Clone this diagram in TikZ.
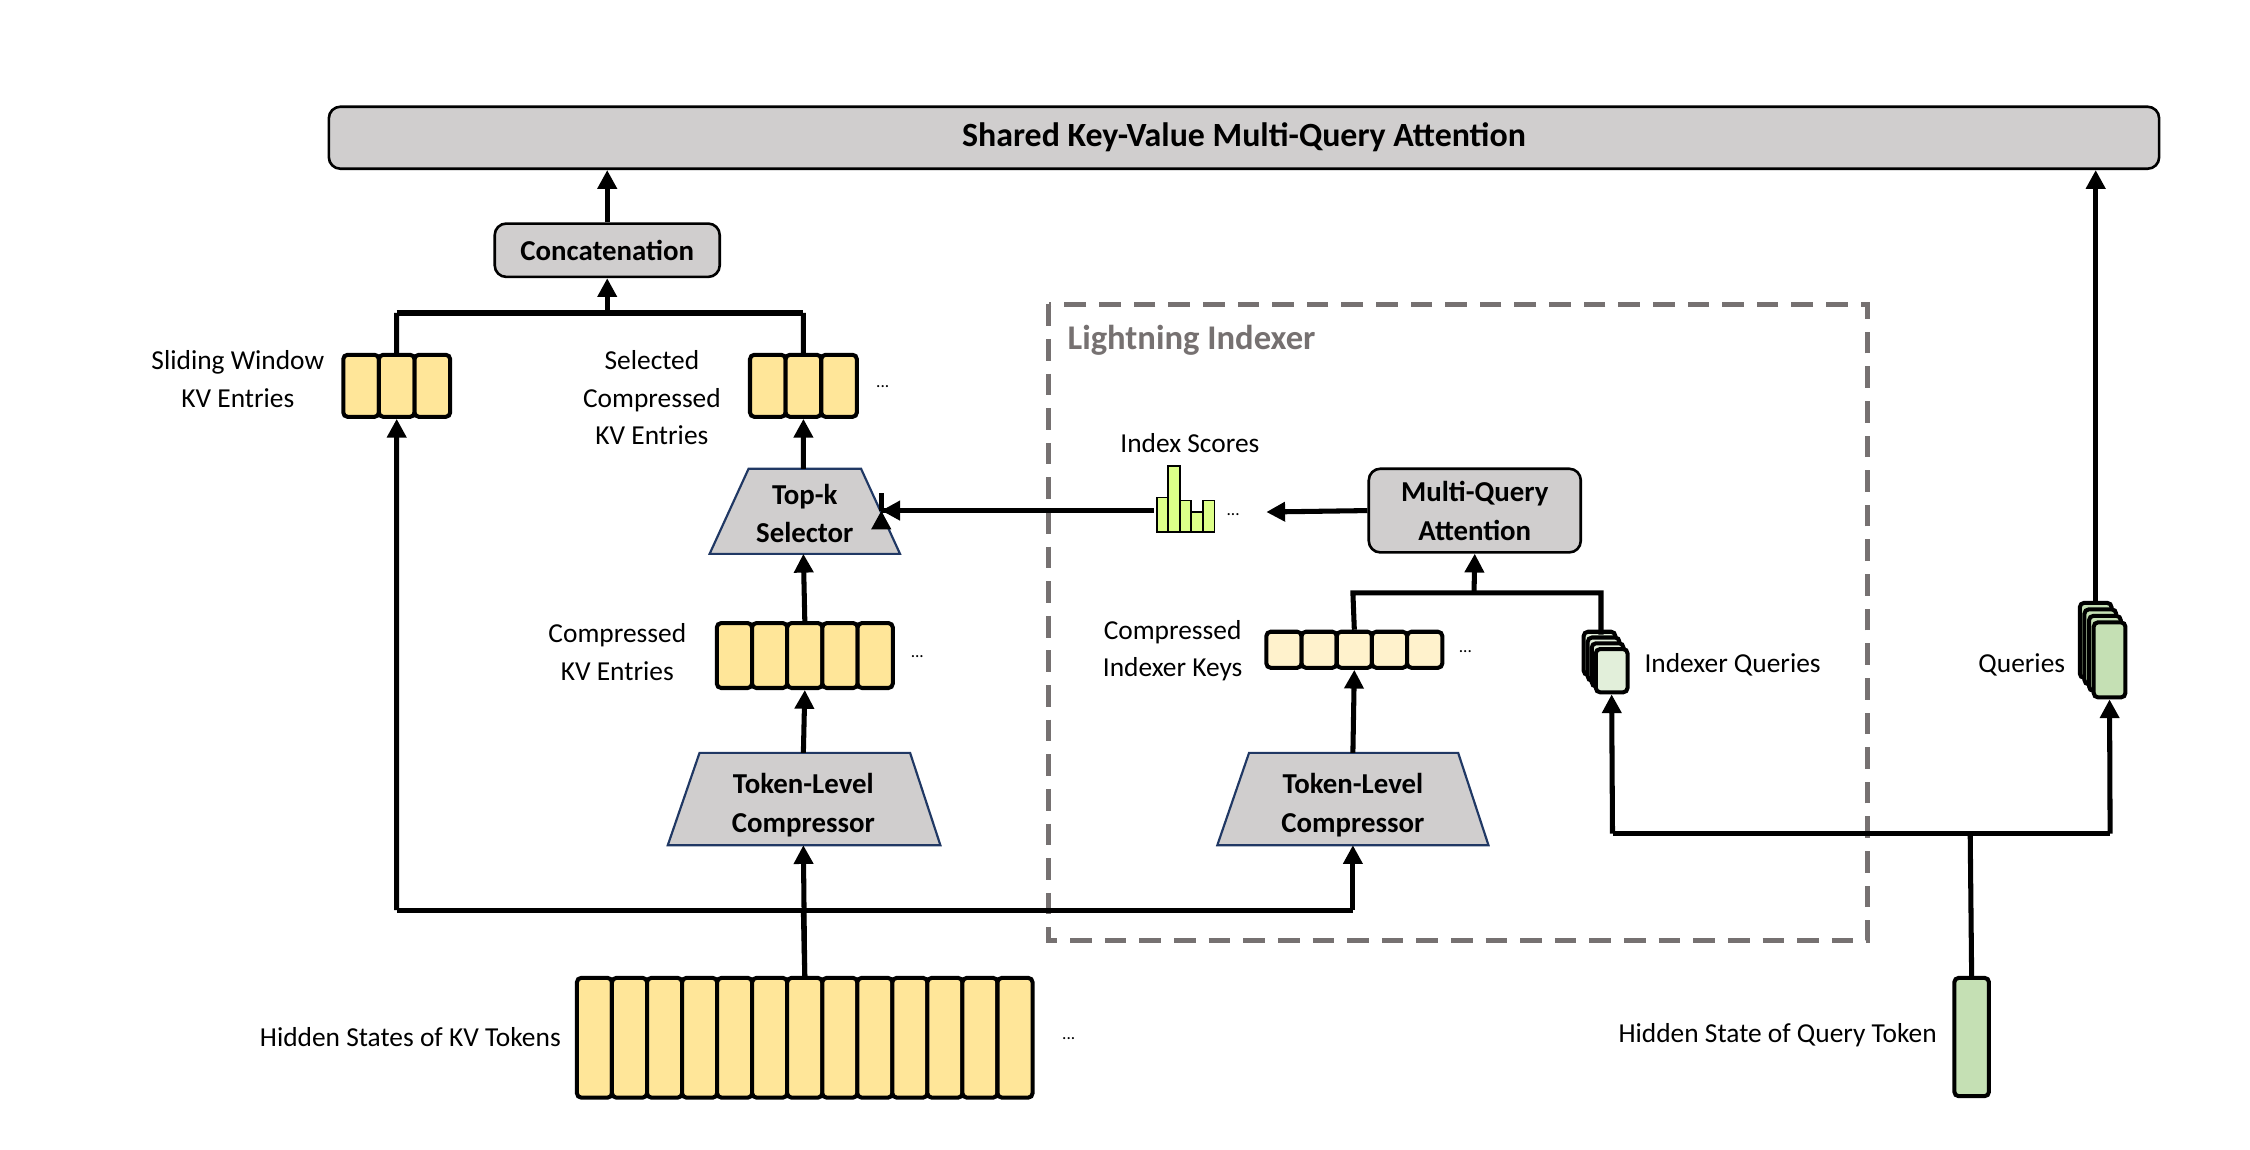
\documentclass[tikz,border=0pt]{standalone}
\usepackage{fontspec}
\setmainfont{Carlito}
\usetikzlibrary{arrows.meta}
\definecolor{boxgray}{HTML}{D0CECE}
\definecolor{kvy}{HTML}{FFE699}
\definecolor{kvl}{HTML}{FFF2CC}
\definecolor{qg}{HTML}{C5E0B4}
\definecolor{qgl}{HTML}{E2EFDA}
\definecolor{barg}{HTML}{DDFF88}
\definecolor{navy}{HTML}{203864}
\definecolor{dgray}{HTML}{767171}
\tikzset{
  lbl/.style={font=\fontsize{19}{26}\selectfont, align=center, inner sep=0pt},
  conn/.style={line width=3.5pt, black},
  arr/.style={conn, -{Triangle[length=13pt,width=13pt]}},
  cell/.style={draw=black, line width=2.8pt, rounded corners=3pt, inner sep=0pt},
  gbox/.style={draw=black, line width=1.8pt, fill=boxgray, rounded corners=8pt, font=\fontsize{20}{27}\selectfont\bfseries, align=center, inner sep=0pt},
  trap/.style={draw=navy, line width=1.5pt, fill=boxgray},
  traptext/.style={font=\fontsize{20}{27}\selectfont\bfseries, align=center, inner sep=0pt},
  dots/.style={font=\fontsize{12}{12}\selectfont, inner sep=0pt}
}
\begin{document}
\begin{tikzpicture}[x=1pt,y=-1pt]
\useasboundingbox (0,0) rectangle (1560,797);
% title
\node[gbox, minimum width=1269pt, minimum height=43pt, font=\fontsize{23.5}{28}\selectfont\bfseries] (title) at (862.5,95.5) {Shared Key-Value Multi-Query Attention};
\node[gbox, minimum width=156pt, minimum height=37pt] (concat) at (421,173.5) {Concatenation};
% lightning indexer box
\draw[dgray, line width=3.5pt, dash pattern=on 15pt off 9pt] (727,211) rectangle (1295,652);
\node[font=\fontsize{24}{28}\selectfont\bfseries, text=dgray, anchor=west, inner sep=0pt] (li) at (740,236) {Lightning Indexer};
% sliding window
\foreach \i in {0,1,2} \node[cell, fill=kvy, minimum width=24.7pt, minimum height=43pt] (sw\i) at ({238+12.35+\i*24.7},267.5) {};
\node[lbl, anchor=east] (swl) at (225,263) {Sliding Window\\KV Entries};
% selected
\foreach \i in {0,1,2} \node[cell, fill=kvy, minimum width=24.7pt, minimum height=43pt] (sel\i) at ({520+12.35+\i*24.7},267.5) {};
\node[dots] (seld) at (612,268) {...};
\node[lbl] (sell) at (452,276) {Selected\\Compressed\\KV Entries};
% topk
\draw[trap] (519,325) -- (597,325) -- (624,384) -- (492,384) -- cycle;
\node[traptext] (topk) at (558,356) {Top-k\\Selector};
\coordinate (topkt) at (557,325); \coordinate (topkb) at (557,384); \coordinate (topkr) at (611,354);
% compressed kv
\foreach \i in {0,...,4} \node[cell, fill=kvy, minimum width=24.4pt, minimum height=45pt] (ck\i) at ({497+12.2+\i*24.4},454.5) {};
\node[dots] (ckd) at (636,455) {...};
\node[lbl] (ckl) at (428,452) {Compressed\\KV Entries};
% TLC1
\draw[trap] (485,522) -- (631,522) -- (652,586) -- (463,586) -- cycle;
\node[traptext] (tlc1) at (557,558) {Token-Level\\Compressor};
\coordinate (tlc1t) at (557,522); \coordinate (tlc1b) at (557,586);
% TLC2
\draw[trap] (866,522) -- (1011,522) -- (1032,586) -- (844,586) -- cycle;
\node[traptext] (tlc2) at (938,558) {Token-Level\\Compressor};
\coordinate (tlc2t) at (938,522); \coordinate (tlc2b) at (938,586);
% hidden KV
\foreach \i in {0,...,12} \node[cell, fill=kvy, minimum width=24.3pt, minimum height=83pt] (hk\i) at ({400+12.15+\i*24.3},719.5) {};
\node[dots] (hkd) at (741,720) {...};
\node[lbl, anchor=east] (hkl) at (389,719) {Hidden States of KV Tokens};
% query token
\node[cell, fill=qg, minimum width=24pt, minimum height=82pt] (qt) at (1367,719) {};
\node[lbl, anchor=east] (qtl) at (1343,718) {Hidden State of Query Token};
% indexer keys
\foreach \i in {0,...,4} \node[cell, fill=kvl, minimum width=24.4pt, minimum height=25pt] (ik\i) at ({878+12.2+\i*24.4},450.5) {};
\node[dots] (ikd) at (1016,452) {...};
\node[lbl] (ikl) at (813,451) {Compressed\\Indexer Keys};
% indexer queries
\foreach \i in {0,1,2,3} \node[cell, fill=qgl, minimum width=22pt, minimum height=30pt] (iq\i) at ({1109+\i*2.8},{453+\i*4}) {};
\node[lbl, anchor=west] (iql) at (1140,461) {Indexer Queries};
% queries
\foreach \i in {0,1,2,3} \node[cell, fill=qg, minimum width=22pt, minimum height=52pt] (q\i) at ({1453+\i*3.2},{444+\i*4.5}) {};
\node[lbl, anchor=east] (ql) at (1432,461) {Queries};
% MQA
\node[gbox, minimum width=147pt, minimum height=58pt] (mqa) at (1022.5,354) {Multi-Query\\Attention};
% index scores
\node[lbl] (isl) at (825,307) {Index Scores};
\draw[conn] (topkr) -- (800,354);
\foreach \i/\t in {0/345,1/323,2/347,3/355,4/347}
  \draw[line width=1.2pt, fill=barg] ({802+\i*8},369) rectangle ({810+\i*8},\t);
\node[dots] (isd) at (855,357) {...};
% connectors
\draw[arr] (concat.north) -- (title.south -| concat.north);
\draw[conn] (275,217) -- (557,217);
\draw[arr] (421,217) -- (concat.south);
\draw[conn] (sw1.north) -- (275,217);
\draw[conn] (sel1.north) -- (557,217);
\draw[arr] (topkt) -- (sel1.south);
\draw[arr] (ck2.north) -- (topkb);
\draw[arr] (tlc1t) -- (ck2.south);
\draw[arr] (hk6.north) -- (tlc1b);
\draw[conn] (hk6.north) -- (557,631);
\draw[conn] (275,631) -- (938,631);
\draw[arr] (275,631) -- (sw1.south);
\draw[arr] (938,631) -- (tlc2b);
\draw[arr] (tlc2t) -- (ik2.south);
\draw[conn] (ik2.north) -- (938,411) -- (1110,411) -- (1110,440);
\draw[arr] (1022,411) -- (mqa.south);
\draw[arr] (mqa.west) -- (878,355);
\draw[arr] (topkr) -- (topkr);
\draw[arr] (700,354) -- (topkr);
\draw[conn] (qt.north) -- (1366,578);
\draw[conn] (1118,578) -- (1463,578);
\draw[arr] (1118,578) -- (iq3.south);
\draw[arr] (1463,578) -- (q3.south);
\draw[arr] (q0.north) -- (title.south -| q0.north);
\end{tikzpicture}
\end{document}
